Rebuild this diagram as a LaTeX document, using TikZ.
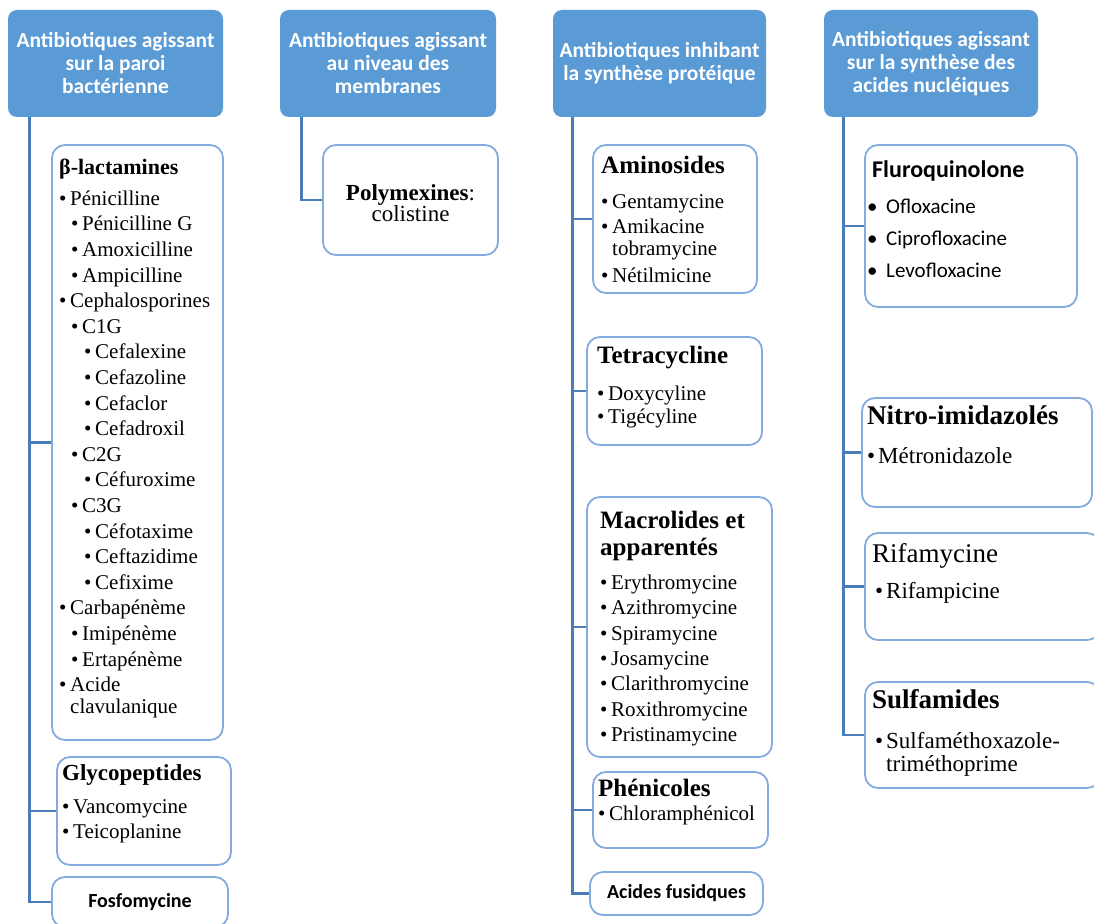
\documentclass[tikz,border=0pt]{standalone}
\usepackage{fontspec}
\setmainfont{Liberation Serif}
\newfontfamily\calib{Carlito}
\usetikzlibrary{positioning}
\definecolor{hdrblue}{RGB}{91,155,213}
\definecolor{lnkblue}{RGB}{74,126,187}
\definecolor{boxblue}{RGB}{132,172,222}
\newcommand\ttl[2]{{\fontsize{#1}{#1}\selectfont\bfseries\strut#2}}
\newcommand\bl[1][0]{\hspace*{#1pt}\makebox[11pt][l]{\textbullet}}

\begin{document}
\begin{tikzpicture}[x=1pt,y=-1pt,
  hdr/.style={fill=hdrblue,rounded corners=9pt,text=white,align=center,
    font=\calib\bfseries\fontsize{21.5}{23}\selectfont,inner sep=0pt},
  box/.style={draw=boxblue,line width=1.8pt,fill=white,rounded corners=13pt,inner sep=0pt},
  lnk/.style={draw=lnkblue,line width=2.7pt},
  txt/.style={anchor=north west,inner sep=0pt,align=left,font=\fontsize{21}{25.6}\selectfont},
  lbl/.style={inner sep=0pt,font=\calib\bfseries\fontsize{20}{22}\selectfont}]
\useasboundingbox[fill=white] (0,0) rectangle (1094,923);

% column headers
\node[hdr,minimum width=215,minimum height=107] (h1) at (115.5,63.5) {Antibiotiques agissant\\sur la paroi\\bactérienne};
\node[hdr,minimum width=216,minimum height=107] (h2) at (388,63.5) {Antibiotiques agissant\\au niveau des\\membranes};
\node[hdr,minimum width=213,minimum height=107] (h3) at (659.5,63.5) {Antibiotiques inhibant\\la synthèse protéique};
\node[hdr,minimum width=214,minimum height=107] (h4) at (931,63.5) {Antibiotiques agissant\\sur la synthèse des\\acides nucléiques};

% boxes
\node[box,minimum width=171,minimum height=595] (lac) at (137.5,442.5) {};
\node[box,minimum width=174,minimum height=108] (gly) at (144,811) {};
\node[box,minimum width=176,minimum height=50] (fos) at (140,902) {};
\node[box,minimum width=175,minimum height=110] (poly) at (410.5,200) {};
\node[box,minimum width=164,minimum height=148] (amino) at (675,219) {};
\node[box,minimum width=175,minimum height=108] (tetra) at (674.5,391) {};
\node[box,minimum width=185,minimum height=260] (macro) at (679.5,627) {};
\node[box,minimum width=175,minimum height=76] (phen) at (680.5,810) {};
\node[box,minimum width=173,minimum height=43] (fus) at (676.5,893.5) {};
\node[box,minimum width=212,minimum height=162] (fluro) at (971,226) {};
\node[box,minimum width=230,minimum height=109] (nitro) at (977,452.5) {};
\node[box,minimum width=235,minimum height=107] (rifa) at (982.5,586.5) {};
\node[box,minimum width=235,minimum height=106] (sulfa) at (982.5,735) {};

% connectors
\foreach \b in {lac,gly,fos}
  \draw[lnk] ([xshift=22pt]h1.south west) |- (\b.west);
\draw[lnk] ([xshift=22pt]h2.south west) |- (poly.west);
\foreach \b in {amino,tetra,macro,phen,fus}
  \draw[lnk] ([xshift=20pt]h3.south west) |- (\b.west);
\foreach \b in {fluro,nitro,rifa,sulfa}
  \draw[lnk] ([xshift=20pt]h4.south west) |- (\b.west);

% texts, column 1
\node[txt] (lactxt) at (59,159) {\ttl{22}{β-lactamines}\\[5pt]
  \bl Pénicilline\\ \bl[12]Pénicilline G\\ \bl[12]Amoxicilline\\ \bl[12]Ampicilline\\
  \bl Cephalosporines\\ \bl[12]C1G\\ \bl[25]Cefalexine\\ \bl[25]Cefazoline\\
  \bl[25]Cefaclor\\ \bl[25]Cefadroxil\\ \bl[12]C2G\\ \bl[25]Céfuroxime\\
  \bl[12]C3G\\ \bl[25]Céfotaxime\\ \bl[25]Ceftazidime\\ \bl[25]Cefixime\\
  \bl Carbapénème\\ \bl[12]Imipénème\\ \bl[12]Ertapénème\\
  \bl Acide\\[-3.6pt] \hspace*{11pt}clavulanique};
\node[txt] (glytxt) at (62,763.9) {\ttl{23}{Glycopeptides}\\[7.4pt]
  \bl Vancomycine\\[-0.6pt] \bl Teicoplanine};
\node[lbl] (fostxt) at (fos.center) {Fosfomycine};

% column 2
\node[align=center,inner sep=0pt,font=\fontsize{23}{21}\selectfont] (polytxt) at (410.5,203)
  {{\bfseries Polymexines}:\\colistine};

% column 3
\node[txt,font=\fontsize{21}{25}\selectfont] (aminotxt) at (601,155.5) {\ttl{25}{Aminosides}\\[10pt]
  \bl Gentamycine\\ \bl Amikacine\\[-3pt] \hspace*{11pt}tobramycine\\[2pt] \bl Nétilmicine};
\node[txt,font=\fontsize{21}{25}\selectfont] (tetratxt) at (597,345.5) {\ttl{25}{Tetracycline}\\[12pt]
  \bl Doxycyline\\[-2pt] \bl Tigécyline};
\node[txt,font=\fontsize{21}{25.4}\selectfont] (macrotxt) at (600,510.5) {\ttl{25}{Macrolides et}\\[1.6pt]
  \ttl{25}{apparentés}\\[8.6pt]
  \bl Erythromycine\\ \bl Azithromycine\\ \bl Spiramycine\\ \bl Josamycine\\
  \bl Clarithromycine\\ \bl Roxithromycine\\ \bl Pristinamycine};
\node[txt,font=\fontsize{21}{25}\selectfont] (phentxt) at (598,778.5) {\ttl{25}{Phénicoles}\\[-1pt]
  \bl Chloramphénicol};
\node[lbl] (fustxt) at (fus.center) {Acides fusidques};

% column 4
\node[txt,font=\calib\fontsize{21}{32}\selectfont] (flurotxt) at (867,160.2)
  {\hspace*{5pt}\ttl{24}{Fluroquinolone}\\[4pt]
  \makebox[19pt][l]{\textbullet}Ofloxacine\\ \makebox[19pt][l]{\textbullet}Ciprofloxacine\\
  \makebox[19pt][l]{\textbullet}Levofloxacine};
\node[txt,font=\fontsize{23}{25}\selectfont] (nitrotxt) at (867,405.1) {\ttl{27}{Nitro-imidazolés}\\[14pt]
  \bl Métronidazole};
\node[txt,font=\fontsize{23}{25}\selectfont] (rifatxt) at (872,543.1)
  {{\fontsize{27}{27}\selectfont\strut Rifamycine}\\[11pt] \bl[3]Rifampicine};
\node[txt,font=\fontsize{23}{25}\selectfont] (sulfatxt) at (872,689.1) {\ttl{27}{Sulfamides}\\[15pt]
  \bl[3]Sulfaméthoxazole-\\[-2pt] \hspace*{14pt}triméthoprime};
\end{tikzpicture}
\end{document}
